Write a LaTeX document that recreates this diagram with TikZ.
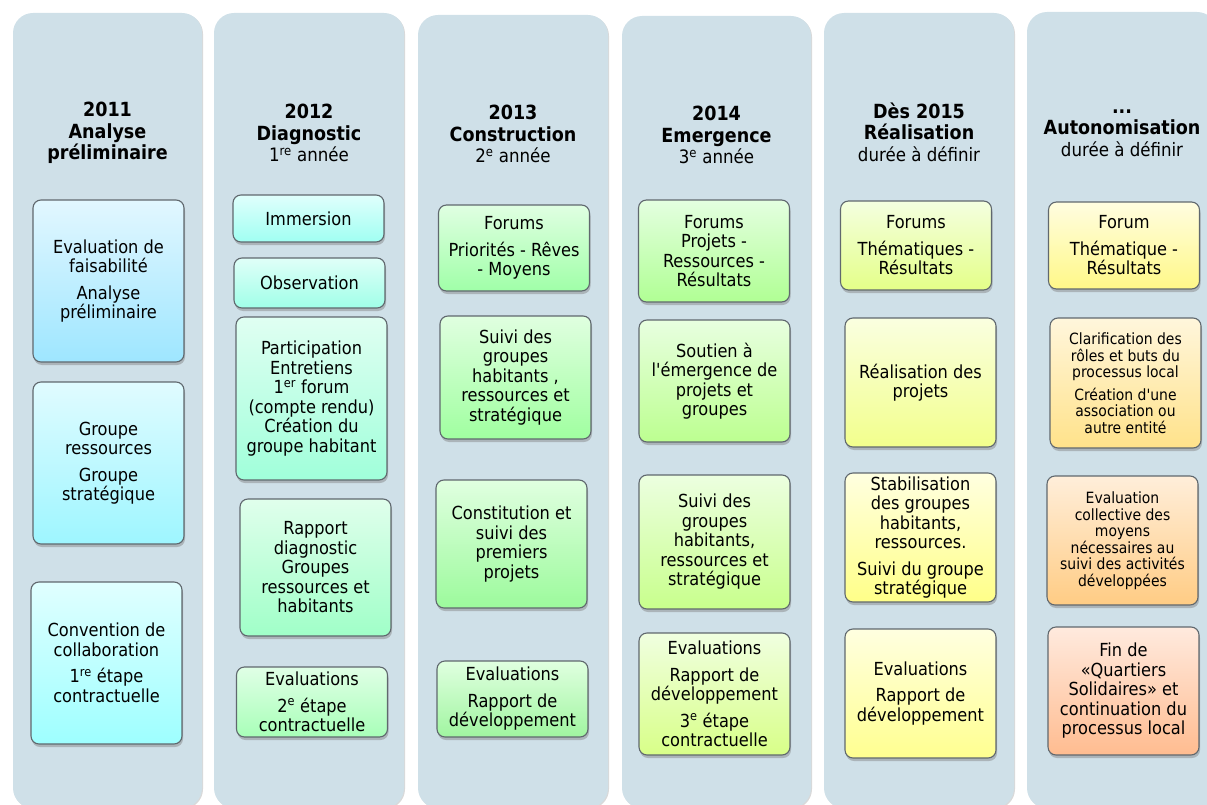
\documentclass[tikz,border=0pt]{standalone}
\usepackage{fontspec}
\setmainfont{DejaVu Sans Condensed}[Ligatures=TeXOff]
\usetikzlibrary{shadows}
\definecolor{colfill}{RGB}{207,224,232}
\definecolor{boxline}{RGB}{96,104,110}
\newcommand{\yearnote}[1]{{\fontsize{18.5}{20}\selectfont\mdseries #1}}
\tikzset{column/.style = {fill=colfill, rounded corners=20pt, drop shadow={shadow xshift=1pt, shadow yshift=-1pt, opacity=0.3}},
         head/.style = {align=center, inner sep=0pt, font=\fontsize{19.5}{21.5}\selectfont\bfseries},
         box/.style = {draw=boxline, line width=1.1pt, rounded corners=8pt, align=center, inner sep=2pt, minimum width=151pt, font=\fontsize{18}{19.5}\selectfont, drop shadow={shadow xshift=1pt, shadow yshift=-3pt, opacity=0.45}},
         small/.style = {font=\fontsize{15.5}{16.5}\selectfont},
         grad/.code 2 args = {\definecolor{gradtop}{HTML}{#1}\definecolor{gradbot}{HTML}{#2}%
                              \pgfkeysalso{top color=gradtop, bottom color=gradbot}}}

\begin{document}
\begin{tikzpicture}[x=1pt,y=-1pt]
    \path[use as bounding box, clip](0,0) rectangle (1207,805);

    % columns
    \path[column](13,13) rectangle (202,808);
    \path[column](214,13) rectangle (404,808);
    \path[column](418,15) rectangle (608,808);
    \path[column](622,16) rectangle (811,808);
    \path[column](824,13) rectangle (1014,808);
    \path[column](1027,12) rectangle (1217,808);

    % headings
    \node[head] (head1) at (107.5,133) {2011\\Analyse\\préliminaire};
    \node[head] (head2) at (309,133) {2012\\Diagnostic\\\yearnote{1\textsuperscript{re} année}};
    \node[head] (head3) at (513,134) {2013\\Construction\\\yearnote{2\textsuperscript{e} année}};
    \node[head] (head4) at (716.5,135) {2014\\Emergence\\\yearnote{3\textsuperscript{e} année}};
    \node[head] (head5) at (919,132) {Dès 2015\\Réalisation\\\yearnote{durée à définir}};
    \node[head] (head6) at (1122,133) {...\\Autonomisation\\\yearnote{durée à définir}};

    % 2011
    \node[box, grad={E2F7FF}{9EE6FF}, minimum height=162pt] (faisab) at (108.5,281)
        {Evaluation de\\faisabilité\\[7pt]Analyse\\préliminaire};
    \node[box, grad={E0FBFF}{9EF6FF}, minimum height=162pt] (groupes) at (108.5,463)
        {Groupe\\ressources\\[7pt]Groupe\\stratégique};
    \node[box, grad={E0FFFF}{9EFFFF}, minimum height=162pt] (convention) at (106.5,663)
        {Convention de\\collaboration\\[7pt]1\textsuperscript{re} étape\\contractuelle};

    % 2012
    \node[box, grad={E0FFFC}{A0FFF2}, minimum height=47pt] (immersion) at (308.5,218.5) {Immersion};
    \node[box, grad={E0FFF8}{A0FFE8}, minimum height=50pt] (observation) at (309.5,283) {Observation};
    \node[box, grad={E0FFF2}{A0FFDA}, minimum height=163pt] (particip) at (311.5,398.5)
        {Participation\\Entretiens\\1\textsuperscript{er} forum\\(compte rendu)\\Création du\\groupe habitant};
    \node[box, grad={E0FFEC}{A0FFC8}, minimum height=137pt] (rapport) at (315.5,567.5)
        {Rapport\\diagnostic\\Groupes\\ressources et\\habitants};
    \node[box, grad={E0FFE6}{A8FFB8}, minimum height=70pt] (evaldiag) at (312,702)
        {Evaluations\\[7pt]2\textsuperscript{e} étape\\contractuelle};

    % 2013
    \node[box, grad={E0FFE2}{A0FFA8}, minimum height=86pt] (forums13) at (514,248)
        {Forums\\[7pt]Priorités - Rêves\\- Moyens};
    \node[box, grad={E0FFE0}{A0FFA0}, minimum height=123pt] (suivi13) at (515.5,377.5)
        {Suivi des\\groupes\\habitants ,\\ressources et\\stratégique};
    \node[box, grad={E0FFE0}{9CFA9C}, minimum height=128pt] (constit) at (511.5,544)
        {Constitution et\\suivi des\\premiers\\projets};
    \node[box, grad={E0FFE0}{A0F5A0}, minimum height=76pt] (eval13) at (512.5,699)
        {Evaluations\\[7pt]Rapport de\\développement};

    % 2014
    \node[box, grad={E4FFE0}{B0FF94}, minimum height=102pt] (forums14) at (714,251)
        {Forums\\Projets -\\Ressources -\\Résultats};
    \node[box, grad={E8FFE0}{BCFF90}, minimum height=122pt] (soutien) at (714.5,381)
        {Soutien à\\l'émergence de\\projets et\\groupes};
    \node[box, grad={ECFFE0}{C8FF8C}, minimum height=134pt] (suivi14) at (714.5,542)
        {Suivi des\\groupes\\habitants,\\ressources et\\stratégique};
    \node[box, grad={F0FFE0}{D8FF88}, minimum height=122pt] (eval14) at (714.5,694)
        {Evaluations\\[7pt]Rapport de\\développement\\[7pt]3\textsuperscript{e} étape\\contractuelle};

    % 2015
    \node[box, grad={F4FFE0}{E4FF88}, minimum height=89pt] (forums15) at (916,245.5)
        {Forums\\[7pt]Thématiques -\\Résultats};
    \node[box, grad={FAFFE0}{F2FF8C}, minimum height=129pt] (realis) at (920.5,382.5)
        {Réalisation des\\projets};
    \node[box, grad={FFFFE0}{FFFF88}, minimum height=129pt] (stabil) at (920.5,537.5)
        {Stabilisation\\des groupes\\habitants,\\ressources.\\[7pt]Suivi du groupe\\stratégique};
    \node[box, grad={FFFFE0}{FFFF90}, minimum height=129pt] (eval15) at (920.5,693.5)
        {Evaluations\\[7pt]Rapport de\\développement};

    % autonomisation
    \node[box, grad={FFFDE0}{FFF888}, minimum height=87pt] (forum16) at (1124,245.5)
        {Forum\\[7pt]Thématique -\\Résultats};
    \node[box, small, grad={FFF6DC}{FFE28A}, minimum height=130pt] (clarif) at (1125.5,383)
        {Clarification des\\rôles et buts du\\processus local\\[6pt]Création d'une\\association ou\\autre entité};
    \node[box, small, grad={FFEEDA}{FFCC84}, minimum height=129pt] (evalcoll) at (1122.5,540.5)
        {Evaluation\\collective des\\moyens\\nécessaires au\\suivi des activités\\développées};
    \node[box, grad={FFEADE}{FFBC90}, minimum height=128pt] (fin) at (1123.5,691)
        {Fin de\\«Quartiers\\Solidaires» et\\continuation du\\processus local};
\end{tikzpicture}
\end{document}
